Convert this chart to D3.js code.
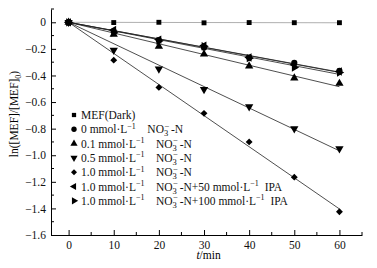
<!DOCTYPE html>
<html>
<head>
<meta charset="utf-8">
<script src="https://cdn.jsdelivr.net/npm/d3@7"></script>
<style>
  body { margin: 0; background: #fff; }
  svg { display: block; font-family: "Liberation Serif", "DejaVu Serif", serif; }
  text { white-space: pre; }
</style>
</head>
<body>
<div id="chart"></div>
<script>
// sampling times (min)
const times = [0, 10, 20, 30, 40, 50, 60];

// ln([MEF]/[MEF]0) per condition
const dark   = [0, -0.002, 0, -0.004, -0.002, -0.003, -0.003];
const no3_0  = [0, -0.068, -0.135, -0.19, -0.265, -0.305, -0.365];
const no3_01 = [0, -0.09, -0.18, -0.24, -0.33, -0.42, -0.46];
const no3_05 = [0, -0.21, -0.35, -0.505, -0.635, -0.80, -0.95];
const no3_10 = [0, -0.285, -0.49, -0.685, -0.90, -1.165, -1.425];
const ipa50  = [0, -0.058, -0.13, -0.175, -0.265, -0.32, -0.37];
const ipa100 = [0, -0.078, -0.14, -0.18, -0.27, -0.34, -0.378];

const xTicks = [0, 10, 20, 30, 40, 50, 60];
const yTicks = [0, -0.2, -0.4, -0.6, -0.8, -1.0, -1.2, -1.4, -1.6];

// legend labels, split in pieces: [text, kind]
const NO3 = [["NO"], ["3", "sub"], ["\u2212", "supback"], ["-N", "gap"]];
const L1 = [["mmol\u00b7L"], ["\u22121", "sup"]];
const labels = [
    [["MEF(Dark)"]],
    [["0 "], ...L1, ["    "], ...NO3],
    [["0.1 "], ...L1, ["    "], ...NO3],
    [["0.5 "], ...L1, ["    "], ...NO3],
    [["1.0 "], ...L1, ["    "], ...NO3],
    [["1.0 "], ...L1, ["    "], ...NO3, ["+50 "], ...L1, ["  IPA"]],
    [["1.0 "], ...L1, ["    "], ...NO3, ["+100 "], ...L1, ["  IPA"]],
];

const series = [
    { vals: dark, sym: d3.symbolSquare, size: 24, rot: 0, line: "#9a9a9a" },
    { vals: no3_0, sym: d3.symbolCircle, size: 30, rot: 0, line: "#222" },
    { vals: no3_01, sym: d3.symbolTriangle, size: 30, rot: 0, line: "#222" },
    { vals: no3_05, sym: d3.symbolTriangle, size: 30, rot: 180, line: "#222" },
    { vals: no3_10, sym: d3.symbolDiamond2, size: 30, rot: 0, line: "#222" },
    { vals: ipa50, sym: d3.symbolTriangle, size: 30, rot: -90, line: "#222" },
    { vals: ipa100, sym: d3.symbolTriangle, size: 30, rot: 90, line: "#222" },
];

const width = 377, height = 268;
const margin = { top: 9, right: 15, bottom: 33, left: 51 };

const svg = d3.select("#chart").append("svg")
    .attr("width", width)
    .attr("height", height);

const x = d3.scaleLinear().domain([-3.9, 65]).range([margin.left, width - margin.right]);
const y = d3.scaleLinear().domain([-1.6, 0.1]).range([height - margin.bottom, margin.top]);

// axes, ticks pointing inward
const gx = svg.append("g").attr("transform", `translate(0,${y(-1.6)})`);
gx.call(d3.axisBottom(x).tickValues(xTicks).tickSizeInner(-5).tickSizeOuter(0).tickPadding(6));
gx.append("g").selectAll("line")
    .data([5, 15, 25, 35, 45, 55, 65])
    .join("line")
    .attr("x1", d => x(d)).attr("x2", d => x(d))
    .attr("y1", 0).attr("y2", -3)
    .attr("stroke", "#000");

const gy = svg.append("g").attr("transform", `translate(${x(-3.9)},0)`);
gy.call(d3.axisLeft(y).tickValues(yTicks).tickSizeInner(-5).tickSizeOuter(0).tickPadding(5)
    .tickFormat(d => d === 0 ? "0" : d3.format(".1f")(d)));
gy.append("g").selectAll("line")
    .data([0.1, -0.1, -0.3, -0.5, -0.7, -0.9, -1.1, -1.3, -1.5])
    .join("line")
    .attr("x1", 0).attr("x2", 3)
    .attr("y1", d => y(d)).attr("y2", d => y(d))
    .attr("stroke", "#000");

svg.selectAll(".tick text")
    .attr("font-size", 11.5)
    .attr("font-family", "Liberation Serif")
    .attr("fill", "#111");
svg.selectAll(".domain, .tick line").attr("stroke", "#000");

// axis titles
svg.append("text")
    .attr("x", x(31)).attr("y", 259)
    .attr("text-anchor", "middle")
    .attr("font-size", 11.5)
    .call(t => {
        t.append("tspan").attr("font-style", "italic").text("t");
        t.append("tspan").text("/min");
    });

svg.append("text")
    .attr("transform", `translate(18,114) rotate(-90)`)
    .attr("text-anchor", "middle")
    .attr("font-size", 11.5)
    .call(t => {
        t.append("tspan").text("ln([MEF]/[MEF]");
        t.append("tspan").attr("font-size", 8).attr("dy", 3).text("0");
        t.append("tspan").attr("dy", -3).text(")");
    });

// fitted lines through origin
series.forEach(s => {
    const k = d3.sum(times, (t, i) => t * s.vals[i]) / d3.sum(times, t => t * t);
    svg.append("line")
        .attr("x1", x(0)).attr("y1", y(0))
        .attr("x2", x(60)).attr("y2", y(k * 60))
        .attr("stroke", s.line)
        .attr("stroke-width", 0.8);
});

// points
series.forEach(s => {
    svg.append("g").selectAll("path")
        .data(times.map((t, i) => [t, s.vals[i]]))
        .join("path")
        .attr("d", d3.symbol(s.sym, s.size))
        .attr("transform", d => `translate(${x(d[0])},${y(d[1])}) rotate(${s.rot})`)
        .attr("fill", "#000");
});

// legend
const leg = svg.append("g");
labels.forEach((parts, i) => {
    const s = series[i];
    const yy = 115 + i * 14.3;
    leg.append("path")
        .attr("d", d3.symbol(s.sym, s.size * 0.75))
        .attr("transform", `translate(74,${yy}) rotate(${s.rot})`)
        .attr("fill", "#000");
    const txt = leg.append("text")
        .attr("x", 81).attr("y", yy + 4)
        .attr("font-size", 11.5)
        .attr("fill", "#111");
    let base = 0;
    parts.forEach(([str, kind]) => {
        const ts = txt.append("tspan").text(str);
        let target = 0;
        if (kind === "sup") { target = -4.5; ts.attr("font-size", 8); }
        if (kind === "sub") { target = 3; ts.attr("font-size", 8.5); }
        if (kind === "supback") { target = -4.5; ts.attr("font-size", 8.5).attr("dx", -3.5); }
        if (kind === "gap") ts.attr("dx", 1.5);
        ts.attr("dy", target - base);
        base = target;
    });
});
</script>
</body>
</html>
